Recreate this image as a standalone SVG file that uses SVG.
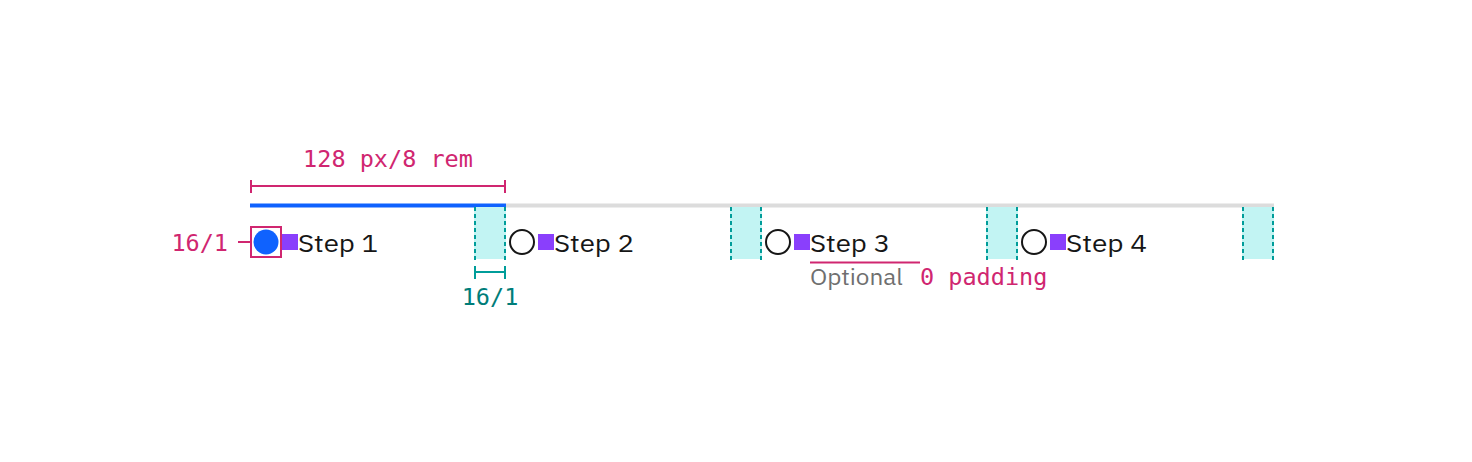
<svg xmlns="http://www.w3.org/2000/svg" width="1472" height="462" viewBox="0 0 1472 462">
<style>
.lbl{font-family:"IBM Plex Sans",Inter,"Noto Sans",sans-serif;font-size:25px;fill:#161616}
.mono{font-family:"DejaVu Sans Mono","Liberation Mono",monospace;font-size:23.5px}
.pink{fill:#d02670}
.teal{fill:#007d79}
.gap{fill:#c2f4f3}
.dash{stroke:#009d9a;stroke-width:2;stroke-dasharray:4 3;fill:none}
.ring{fill:#fff;stroke:#161616;stroke-width:2}
.pur{fill:#8a3ffc}
.pl{stroke:#d02670;stroke-width:2;fill:none}
.tl{stroke:#009d9a;stroke-width:2;fill:none}
</style>
<rect width="1472" height="462" fill="#fff"/>
<g id="track">
<rect x="506" y="203.5" width="768" height="4" fill="#dcdcdc"/>
<rect x="250" y="203.5" width="256" height="4" fill="#0f62fe"/>
</g>
<g id="gaps">
<rect class="gap" x="474" y="207" width="32" height="52"/>
<rect class="gap" x="730" y="207" width="32" height="52"/>
<rect class="gap" x="986" y="207" width="32" height="52"/>
<rect class="gap" x="1242" y="207" width="32" height="52"/>
<path class="dash" d="M475 207V260M505 207V260M731 207V260M761 207V260M987 207V260M1017 207V260M1243 207V260M1273 207V260"/>
</g>
<g id="step1">
<circle cx="266" cy="242" r="12.5" fill="#0f62fe"/>
<rect x="282" y="234" width="16" height="16" class="pur"/>
<text class="lbl" x="298" y="252" textLength="80" lengthAdjust="spacingAndGlyphs">Step 1</text>
</g>
<g id="step2">
<circle class="ring" cx="522" cy="242" r="12"/>
<rect x="538" y="234" width="16" height="16" class="pur"/>
<text class="lbl" x="554" y="252" textLength="80" lengthAdjust="spacingAndGlyphs">Step 2</text>
</g>
<g id="step3">
<circle class="ring" cx="778" cy="242" r="12"/>
<rect x="794" y="234" width="16" height="16" class="pur"/>
<text class="lbl" x="810" y="252" textLength="80" lengthAdjust="spacingAndGlyphs">Step 3</text>
<text x="810" y="285" textLength="93" lengthAdjust="spacingAndGlyphs" style="font-family:'IBM Plex Sans',Inter,'Noto Sans',sans-serif;font-size:22px;fill:#6f6f6f">Optional</text>
</g>
<g id="step4">
<circle class="ring" cx="1034" cy="242" r="12"/>
<rect x="1050" y="234" width="16" height="16" class="pur"/>
<text class="lbl" x="1066" y="252" textLength="81" lengthAdjust="spacingAndGlyphs">Step 4</text>
</g>
<g id="connectors">
<path class="pl" d="M250 186H506M251 180V193M505 180V193"/>
<rect x="251" y="227" width="30" height="30" class="pl"/>
<path class="pl" d="M238 242H250"/>
<path class="pl" d="M810 262.5H920"/>
<path class="tl" d="M475 272H505M475 266V279M505 266V279"/>
</g>
<g id="annotations">
<text class="mono pink" x="388" y="167" text-anchor="middle">128 px/8 rem</text>
<text class="mono pink" x="228" y="251" text-anchor="end">16/1</text>
<text class="mono teal" x="490" y="305" text-anchor="middle">16/1</text>
<text class="mono pink" x="920" y="285">0 padding</text>
</g>
</svg>
